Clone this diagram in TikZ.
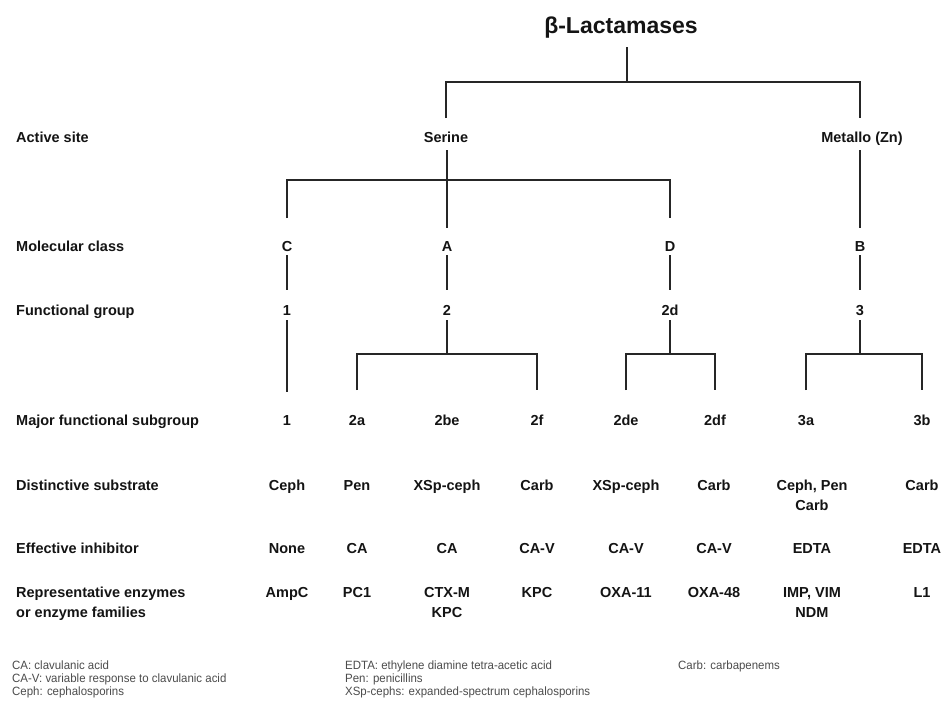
\documentclass[tikz,border=0pt]{standalone}
\usepackage{fontspec}
\setmainfont{Liberation Sans}
\newfontfamily\legfont[FakeStretch=0.955]{Liberation Sans}
\begin{document}
\begin{tikzpicture}[x=1pt,y=-1pt,
  lab/.style={anchor=base west, inner sep=0, font=\bfseries\fontsize{14.5}{19}\selectfont, text=black!92},
  cell/.style={anchor=base, inner sep=0, font=\bfseries\fontsize{14.5}{19}\selectfont, text=black!92},
  ttl/.style={anchor=base, inner sep=0, font=\bfseries\fontsize{23}{27}\selectfont, text=black!92},
  leg/.style={anchor=base west, inner sep=0, font=\legfont\fontsize{12}{14}\selectfont, text=black!70},
  conn/.style={line width=2pt, draw=black!85}]
\useasboundingbox[fill=white] (0,0) rectangle (943,705);
\newcommand{\two}[2]{\begin{tabular}[t]{@{}c@{}}#1\\[1pt]#2\end{tabular}}

% title and tree
\node[ttl] (root) at (621,33) {β-Lactamases};
\node[cell] (serine) at (446,142) {Serine};
\node[cell] (metallo) at (862,142) {Metallo (Zn)};
\node[cell] (C) at (287,251) {C};
\node[cell] (A) at (447,251) {A};
\node[cell] (D) at (670,251) {D};
\node[cell] (B) at (860,251) {B};
\node[cell] (f1) at (287,315) {1};
\node[cell] (f2) at (447,315) {2};
\node[cell] (f2d) at (670,315) {2d};
\node[cell] (f3) at (860,315) {3};
\node[cell] (s1) at (287,425) {1};
\node[cell] (s2a) at (357,425) {2a};
\node[cell] (s2be) at (447,425) {2be};
\node[cell] (s2f) at (537,425) {2f};
\node[cell] (s2de) at (626,425) {2de};
\node[cell] (s2df) at (715,425) {2df};
\node[cell] (s3a) at (806,425) {3a};
\node[cell] (s3b) at (922,425) {3b};

\coordinate (bar0) at (627,82);
\coordinate (bar1) at (447,180);
\coordinate (bar2) at (447,354);
\coordinate (bar3) at (670,354);
\coordinate (bar4) at (860,354);

\draw[conn] ([yshift=-14pt]root.base -| bar0) -- (bar0);
\draw[conn] ([yshift=24pt]serine.base) |- (bar0) -| ([yshift=24pt]metallo.base -| B);
\draw[conn] ([yshift=-8pt]serine.base -| A) -- ([yshift=23pt]A.base);
\draw[conn] ([yshift=33pt]C.base) |- (bar1) -| ([yshift=33pt]D.base);
\draw[conn] ([yshift=-8pt]metallo.base -| B) -- ([yshift=23pt]B.base);
\foreach \u/\v in {C/f1,A/f2,D/f2d,B/f3}
  \draw[conn] ([yshift=-4pt]\u.base) -- ([yshift=25pt]\v.base);
\draw[conn] ([yshift=-5pt]f1.base) -- ([yshift=33pt]s1.base);
\draw[conn] ([yshift=-5pt]f2.base) -- (bar2);
\draw[conn] ([yshift=35pt]s2a.base) |- (bar2) -| ([yshift=35pt]s2f.base);
\draw[conn] ([yshift=-5pt]f2d.base) -- (bar3);
\draw[conn] ([yshift=35pt]s2de.base) |- (bar3) -| ([yshift=35pt]s2df.base);
\draw[conn] ([yshift=-5pt]f3.base) -- (bar4);
\draw[conn] ([yshift=35pt]s3a.base) |- (bar4) -| ([yshift=35pt]s3b.base);

% row labels
\node[lab] (lAct) at (16,142) {Active site};
\node[lab] (lMol) at (16,251) {Molecular class};
\node[lab] (lFun) at (16,315) {Functional group};
\node[lab] (lMaj) at (16,425) {Major functional subgroup};
\node[lab] (lSub) at (16,490) {Distinctive substrate};
\node[lab] (lInh) at (16,553) {Effective inhibitor};
\node[lab] (lRep) at (16,597) {\begin{tabular}[t]{@{}l@{}}Representative enzymes\\[1pt]or enzyme families\end{tabular}};

% distinctive substrate
\node[cell] (d1) at (287,490) {Ceph};
\node[cell] (d2) at (357,490) {Pen};
\node[cell] (d3) at (447,490) {XSp-ceph};
\node[cell] (d4) at (537,490) {Carb};
\node[cell] (d5) at (626,490) {XSp-ceph};
\node[cell] (d6) at (714,490) {Carb};
\node[cell] (d7) at (812,490) {\two{Ceph, Pen}{Carb}};
\node[cell] (d8) at (922,490) {Carb};

% effective inhibitor
\node[cell] (i1) at (287,553) {None};
\node[cell] (i2) at (357,553) {CA};
\node[cell] (i3) at (447,553) {CA};
\node[cell] (i4) at (537,553) {CA-V};
\node[cell] (i5) at (626,553) {CA-V};
\node[cell] (i6) at (714,553) {CA-V};
\node[cell] (i7) at (812,553) {EDTA};
\node[cell] (i8) at (922,553) {EDTA};

% representative enzymes
\node[cell] (r1) at (287,597) {AmpC};
\node[cell] (r2) at (357,597) {PC1};
\node[cell] (r3) at (447,597) {\two{CTX-M}{KPC}};
\node[cell] (r4) at (537,597) {KPC};
\node[cell] (r5) at (626,597) {OXA-11};
\node[cell] (r6) at (714,597) {OXA-48};
\node[cell] (r7) at (812,597) {\two{IMP, VIM}{NDM}};
\node[cell] (r8) at (922,597) {L1};

% legend
\node[leg] (g1) at (12,669) {CA: clavulanic acid};
\node[leg] (g2) at (12,682) {CA-V: variable response to clavulanic acid};
\node[leg] (g3) at (12,695) {Ceph: cephalosporins};
\node[leg] (g4) at (345,669) {EDTA: ethylene diamine tetra-acetic acid};
\node[leg] (g5) at (345,682) {Pen: penicillins};
\node[leg] (g6) at (345,695) {XSp-cephs: expanded-spectrum cephalosporins};
\node[leg] (g7) at (678,669) {Carb: carbapenems};
\end{tikzpicture}
\end{document}
